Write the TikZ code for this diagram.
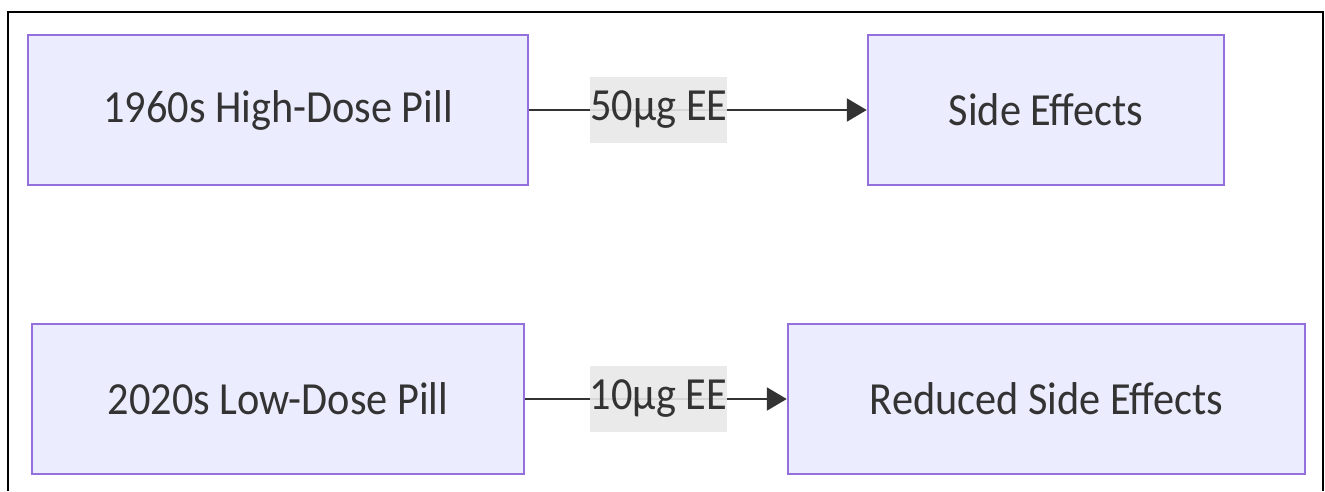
\documentclass[tikz,border=0pt]{standalone}
\usepackage{fontspec}
\setmainfont{Carlito}[FakeStretch=0.92]
\usepackage{tikz}
\usetikzlibrary{arrows.meta}
\definecolor{boxfill}{HTML}{ECECFF}
\definecolor{boxline}{HTML}{9370DB}
\definecolor{ink}{HTML}{333333}
\definecolor{labelbg}{HTML}{E8E8E8}
\tikzset{
  pillbox/.style={draw=boxline, fill=boxfill, line width=2.5pt, text=ink,
    minimum height=150pt, inner sep=0pt, font=\fontsize{46}{52}\selectfont},
  doselabel/.style={fill=labelbg, fill opacity=0.9, text opacity=1, text=ink,
    minimum width=137pt, minimum height=66pt, inner sep=0pt,
    font=\fontsize{46}{52}\selectfont},
  flow/.style={draw=ink, line width=2.5pt, -{Triangle[length=20pt,width=23pt]}}
}
\begin{document}
\begin{tikzpicture}[x=1pt,y=-1pt]
    \useasboundingbox (0,0) rectangle (1325,491);
    \draw[line width=2.5pt] (8,491) -- (8,12) -- (1323,12) -- (1323,491);
    % pills and their effects
    \node[pillbox, minimum width=500pt] (hiPill) at (278,110) {1960s High-Dose Pill};
    \node[pillbox, minimum width=356pt] (sideFx) at (1046,110) {Side Effects};
    \node[pillbox, minimum width=492pt] (loPill) at (278,399) {2020s Low-Dose Pill};
    \node[pillbox, minimum width=517pt] (redFx) at (1046.5,399) {Reduced Side Effects};
    % doses
    \draw[flow] (hiPill) -- node[doselabel, pos=0.384] (hiDose) {50µg EE} (sideFx);
    \draw[flow] (loPill) -- node[doselabel, pos=0.509] (loDose) {10µg EE} (redFx);
\end{tikzpicture}
\end{document}
